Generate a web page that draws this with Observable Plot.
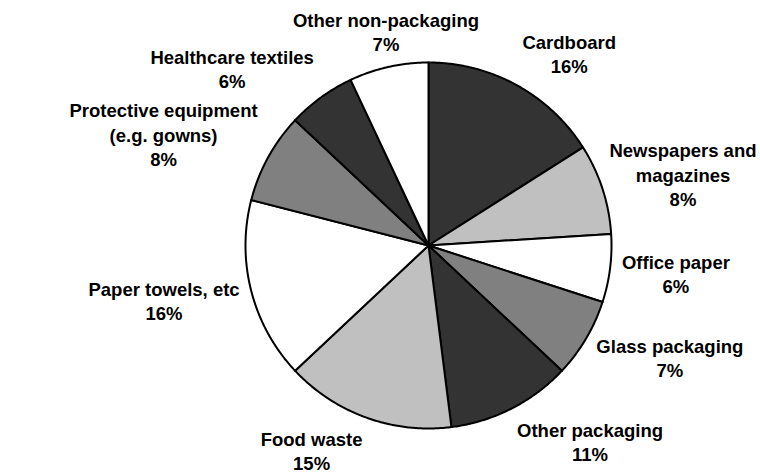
<!DOCTYPE html>
<html>
<head>
<meta charset="utf-8">
<script src="https://cdn.jsdelivr.net/npm/d3@7"></script>
<script src="https://cdn.jsdelivr.net/npm/@observablehq/plot@0.6"></script>
<style>
  html, body { margin: 0; padding: 0; background: #ffffff; }
  #chart svg { display: block; background: #ffffff; }
</style>
</head>
<body>
<div id="chart"></div>
<script>
// ---- Data ----
const categories = [
  "Cardboard",
  "Newspapers and magazines",
  "Office paper",
  "Glass packaging",
  "Other packaging",
  "Food waste",
  "Paper towels, etc",
  "Protective equipment (e.g. gowns)",
  "Healthcare textiles",
  "Other non-packaging"
];
const shares = [16, 8, 6, 7, 11, 15, 16, 8, 6, 7]; // percent
const labelTexts = [
  "Cardboard",
  "Newspapers and\nmagazines",
  "Office paper",
  "Glass packaging",
  "Other packaging",
  "Food waste",
  "Paper towels, etc",
  "Protective equipment\n(e.g. gowns)",
  "Healthcare textiles",
  "Other non-packaging"
];

// ---- Styles / layout ----
const sliceColors = ["#333333", "#c0c0c0", "#ffffff", "#808080", "#333333",
                     "#c0c0c0", "#ffffff", "#808080", "#333333", "#ffffff"];
const W = 760, H = 475;
const cx = 428, cy = 245, r = 183;   // pie centre and radius in px
const labelRadiusX = 195, labelRadiusY = 198;  // px, where labels attach
const edgePad = 4;
const fontSize = 18.5, lineHeight = 1.32;
const fontFamily = "'Liberation Sans', Arial, Helvetica, sans-serif";

const rows = categories.map((c, i) => ({category: c, value: shares[i], label: labelTexts[i] + "\n" + shares[i] + "%"}));
const arcs = d3.pie().sort(null).value(d => d.value)(rows);

// slice polygons in unit-circle coordinates (y up)
const polyPts = [];
arcs.forEach(a => {
  const cat = a.data.category;
  polyPts.push({category: cat, x: 0, y: 0});
  const n = Math.max(2, Math.ceil((a.endAngle - a.startAngle) / (Math.PI / 360)));
  for (let k = 0; k <= n; k++) {
    const t = a.startAngle + (a.endAngle - a.startAngle) * k / n;
    polyPts.push({category: cat, x: Math.sin(t), y: Math.cos(t)});
  }
  polyPts.push({category: cat, x: 0, y: 0});
});

// label layout: box corner attached along the mid angle, kept inside the frame
const ctx = document.createElement("canvas").getContext("2d");
ctx.font = `bold ${fontSize}px ${fontFamily}`;
const labelPts = arcs.map(a => {
  const lines = a.data.label.split("\n");
  const w = Math.max(...lines.map(l => ctx.measureText(l).width));
  const hv = ((lines.length - 1) * fontSize * lineHeight + fontSize) / 2;
  const mid = (a.startAngle + a.endAngle) / 2;
  const s = Math.sin(mid), c = -Math.cos(mid); // screen coords (y down)
  const fx = Math.abs(s) < 0.26 ? 0 : Math.sign(s);
  let px = labelRadiusX * s + fx * w / 2;
  let py = labelRadiusY * c + c * hv;
  // keep the label box within the chart
  px = Math.min(px, W - cx - edgePad - w / 2);
  px = Math.max(px, -cx + edgePad + w / 2);
  py = Math.min(py, H - cy - edgePad - hv);
  py = Math.max(py, -cy + edgePad + hv);
  return {x: px / r, y: -py / r, text: a.data.label};
});

const chart = Plot.plot({
  width: W,
  height: H,
  margin: 0,
  x: {domain: [-cx / r, (W - cx) / r], range: [0, W], axis: null},
  y: {domain: [(cy - H) / r, cy / r], range: [H, 0], axis: null},
  color: {domain: categories, range: sliceColors},
  style: {background: "#ffffff"},
  marks: [
    Plot.line(polyPts, {
      x: "x", y: "y", z: "category", fill: "category",
      stroke: "#000000", strokeWidth: 2, strokeLinejoin: "round", curve: "linear"
    }),
    Plot.text(labelPts, {
      x: "x", y: "y", text: "text",
      fontSize: fontSize, fontWeight: "bold", fontFamily: fontFamily,
      lineHeight: lineHeight, textAnchor: "middle", lineAnchor: "middle",
      fill: "#000000"
    })
  ]
});
document.getElementById("chart").appendChild(chart);
</script>
</body>
</html>
